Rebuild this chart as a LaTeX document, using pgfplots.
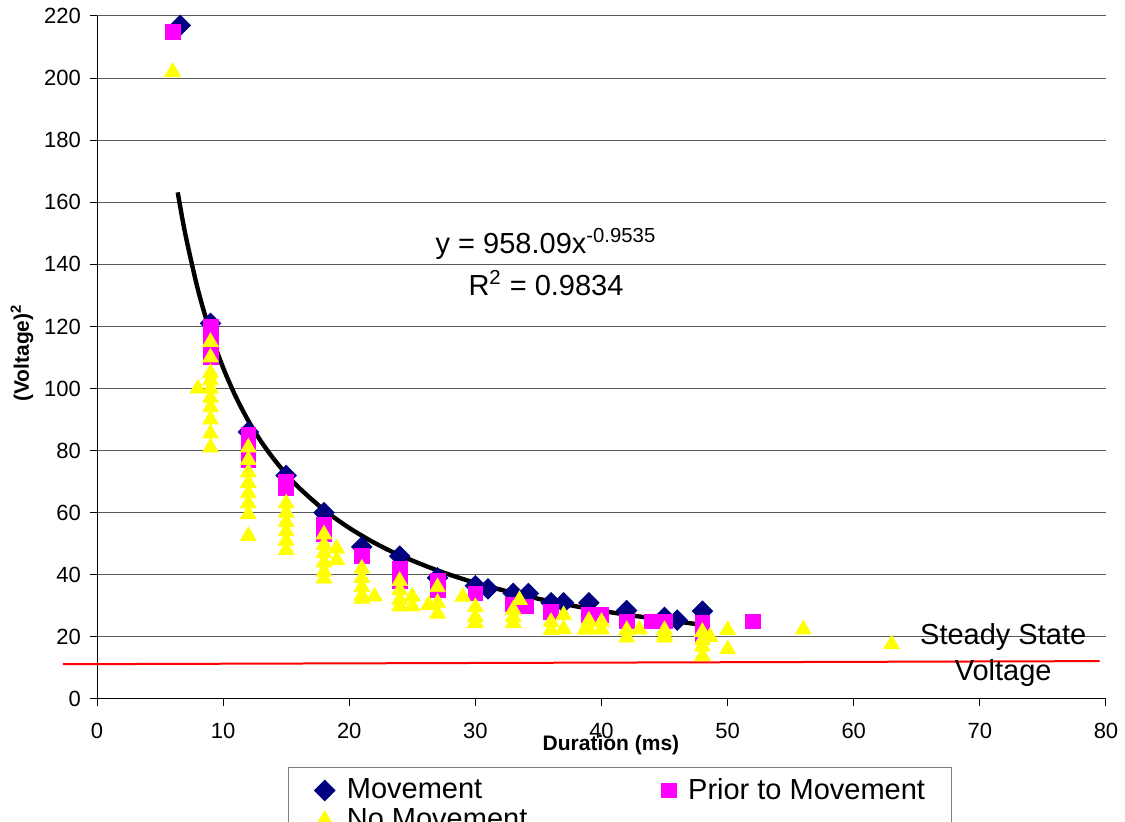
\documentclass[border=0pt]{standalone}
\usepackage{fontspec}
\setmainfont{Liberation Sans}
\usepackage{pgfplots}
\pgfplotsset{compat=1.18}
\definecolor{navyM}{RGB}{0,0,128}
\definecolor{pinkP}{RGB}{255,0,255}
\definecolor{yellowN}{RGB}{255,255,0}
\begin{document}
\begin{tikzpicture}
\useasboundingbox (0,0) rectangle (562.5pt,411pt);
\clip (0,0) rectangle (562.5pt,411pt);
\begin{axis}[
  at={(48.5pt,61.5pt)}, anchor=south west,
  scale only axis, width=504.5pt, height=341.5pt,
  xmin=0, xmax=80, ymin=0, ymax=220,
  xtick={0,10,...,80}, ytick={0,20,...,220},
  axis x line*=bottom, axis y line*=left,
  tick align=outside, major tick length=3.5pt,
  tick style={black, line width=0.5pt},
  axis line style={black, line width=0.5pt},
  ymajorgrids, grid style={black!65, line width=0.5pt},
  ticklabel style={font=\fontsize{11}{13}\selectfont},
  /pgf/number format/assume math mode=true,
  xticklabel style={yshift=-5pt},
  yticklabel style={xshift=-1pt},
  xlabel={\textbf{Duration (ms)}},
  ylabel={\textbf{(Voltage)\textsuperscript{2}}},
  label style={font=\fontsize{10.5}{12}\selectfont},
  xlabel style={at={(axis description cs:0.5094,-0.0673)}, anchor=center},
  ylabel style={at={(axis description cs:-0.0743,0.5066)}, anchor=center},
  clip=false,
  legend columns=2,
  legend cell align=left,
  legend image code/.code={\draw[#1] plot coordinates {(0pt,0pt)};},
  legend style={at={(axis description cs:0.1893,-0.0996)}, anchor=north west,
    draw=black!50, line width=0.5pt,
    font=\fontsize{14.5}{16}\selectfont,
    inner xsep=13pt, inner ysep=4pt,
    nodes={inner xsep=0pt, inner ysep=1.5pt},
    /tikz/every odd column/.style={column sep=6pt},
    /tikz/every even column/.style={column sep=67pt}},
]
% Movement
\addplot[only marks, mark=square*, mark size=3.6pt, color=navyM, mark options={rotate=45}] coordinates {
(6.6,217) (9,121) (12,86) (15,72) (18,60) (21,49) (24,46) (27,39) (30,36.5) (31,35.5)
(33,34) (34.2,34) (36,31) (37,31) (39,31) (42,28.5) (45,26.3) (46,25.4) (48,28.3)
};
\addlegendentry{Movement}
% Prior to Movement
\addplot[only marks, mark=square*, mark size=3.7pt, color=pinkP] coordinates {
(6,215) (9,120) (9,115) (9,110) (12,85) (12,81) (12,77) (15,70) (15,68)
(18,56) (18,53) (21,46) (24,42) (24,38) (27,38) (27,35) (30,34) (33,30.5) (34,29.8)
(36,28) (39,27) (40,27) (42,25) (44,25) (45,25) (48,24.5) (48,21) (52,25)
};
\addlegendentry{Prior to Movement}
% No Movement
\addplot[only marks, mark=triangle*, mark size=4.5pt, color=yellowN] coordinates {
(6,202) (8,100)
(9,115) (9,110) (9,105) (9,102.7) (9,100) (9,97) (9,94) (9,90) (9,85.5) (9,81)
(12,81) (12,77) (12,73) (12,69.6) (12,66.3) (12,63) (12,59.5) (12,52.5)
(15,63) (15,60) (15,57) (15,54) (15,51) (15,48)
(18,53) (18,49.6) (18,47) (18,44) (18,41) (18,38.8)
(19,48.5) (19,44.8)
(21,42) (21,39) (21,36) (21,33.3) (21,32.3)
(22,33)
(24,38) (24,35) (24,32) (24,29.8)
(25,33) (25,29.8)
(26.3,30.3)
(27,36) (27,31) (27,27.5)
(29,32.9)
(30,29.6) (30,26.4) (30,24.5)
(33.5,31.9) (33,28.7) (33,26.4) (33,24.5)
(36,24.8) (36,22.2)
(37,27) (37,22.5)
(38.7,22.4)
(39,25.2) (39,22.4)
(40,24.8) (40,22.4)
(42,22.2) (42,19.8)
(43,22.4)
(45,22.2) (45,20.6) (45,19.8)
(48,21.6) (48,19) (48,16.9) (48,13.8)
(48.6,20)
(50,22.2) (50,16)
(56,22.4)
(63,17.6)
};
\addlegendentry{No Movement}
% steady state line
\addplot[forget plot, red, line width=1pt] coordinates {(-2.7,11.2) (79.5,12.2)};
% power trendline y = 958.09 x^-0.9535 (tabulated)
\addplot[forget plot, black, line width=2.2pt, smooth] coordinates {
(6.4,163.2) (7,149.8) (8,131.9) (9,117.9) (10,106.7) (11,97.4) (12,89.6) (13,83.0)
(14,77.4) (15,72.4) (16,68.1) (18,60.9) (20,55.1) (22,50.3) (24,46.3) (27,41.4)
(30,37.4) (33,34.2) (36,31.4) (40,28.4) (44,26.0) (48,23.9)
};
\node[anchor=base, font=\fontsize{14.5}{17}\selectfont] at (axis cs:35.6,143.6) {y = 958.09x\textsuperscript{-0.9535}};
\node[anchor=base, font=\fontsize{14.5}{17}\selectfont] at (axis cs:35.6,130.1) {R\textsuperscript{2} = 0.9834};
\node[anchor=base, font=\fontsize{14.5}{17}\selectfont] at (axis cs:71.85,17.4) {Steady State};
\node[anchor=base, font=\fontsize{14.5}{17}\selectfont] at (axis cs:71.85,6.1) {Voltage};
\end{axis}
\end{tikzpicture}
\end{document}
